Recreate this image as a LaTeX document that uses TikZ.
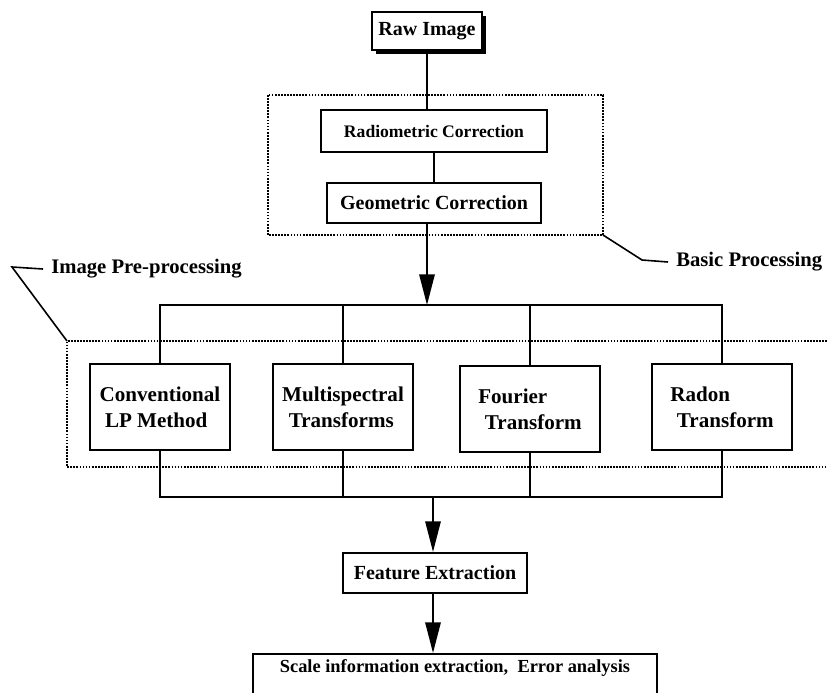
\documentclass[tikz,border=0pt]{standalone}
\usepackage{fontspec}
\setmainfont{Liberation Serif}
\usetikzlibrary{arrows.meta,shadows}
\tikzset{
  blk/.style={draw, line width=1.6pt, fill=white, align=center, inner sep=2pt,
              font=\bfseries\fontsize{15}{19}\selectfont},
  tblk/.style={blk, minimum width=105pt, minimum height=64pt, align=left,
              font=\bfseries\fontsize{15.8}{19.5}\selectfont},
  grp/.style={densely dotted, line width=1.3pt},
  wire/.style={line width=1.5pt},
  arr/.style={line width=1.5pt, -{Triangle[length=23pt,width=11.5pt]}},
  tag/.style={font=\bfseries\fontsize{15.5}{18}\selectfont, anchor=west, inner xsep=6pt, inner ysep=0pt},
}

\begin{document}
\begin{tikzpicture}[x=0.75pt,y=-0.75pt]
  \useasboundingbox (0,0) rectangle (827,692);

  % ---- basic processing ------------------------------------------
  \node[blk, minimum width=82pt, minimum height=29pt,
        drop shadow={opacity=1, fill=black, shadow xshift=3pt, shadow yshift=-3pt}]
        (raw) at (427,31) {Raw Image};
  \draw[grp] (268,95) rectangle (603,235);
  \node[blk, minimum width=169pt, minimum height=31pt, font=\bfseries\fontsize{13.2}{16}\selectfont]
        (radio) at (434,131) {Radiometric Correction};
  \node[blk, minimum width=160pt, minimum height=30pt] (geom) at (434,203) {Geometric Correction};
  \draw[wire] (raw.south) -- (raw.south |- radio.north);
  \draw[wire] (radio) -- (geom);

  \coordinate (cnr1) at (603,235);
  \node[tag] (basic) at (668,262) {Basic Processing};
  \draw[wire, line width=1.2pt] (cnr1) -- (642,260) -- (basic.west);

  % ---- image pre-processing --------------------------------------
  \coordinate (split) at (427,305);
  \coordinate (merge) at (433,497);
  \draw[arr] (raw.south |- geom.south) -- (split);
  \draw[grp] (827,341) -- (67,341) -- (67,467) -- (827,467);

  \node[tblk] (conv)  at (160,407) {Conventional\\\hspace{4pt}LP Method};
  \node[tblk] (multi) at (343,407) {Multispectral\\\hspace{5pt}Transforms};
  \node[tblk] (four)  at (530,409) {\raisebox{-4pt}{Fourier}\\\hspace{5pt}\raisebox{-4pt}{Transform}};
  \node[tblk] (radon) at (722,407) {\raisebox{-5pt}{Radon}\\\hspace{5pt}\raisebox{-5pt}{Transform}};

  \draw[wire] (conv.north) |- (split) -| (radon.north);
  \draw[wire] (multi.north) -- (multi.north |- split);
  \draw[wire] (four.north) -- (four.north |- split);
  \draw[wire] (conv.south) |- (merge) -| (radon.south);
  \draw[wire] (multi.south) -- (multi.south |- merge);
  \draw[wire] (four.south) -- (four.south |- merge);

  \node[tag] (pre) at (43,269) {Image Pre-processing};
  \draw[wire, line width=1.2pt] (67,341) -- (12,267) -- (pre.west);

  % ---- feature extraction ----------------------------------------
  \node[blk, minimum width=138pt, minimum height=30pt] (feat) at (435,573) {Feature Extraction};
  \draw[arr] (merge) -- (merge |- feat.north);
  \node[blk, anchor=north, minimum width=303pt, text depth=22pt, inner ysep=4pt,
        font=\bfseries\fontsize{13.8}{16}\selectfont]
        (scale) at (455,653) {Scale information extraction,\ \ Error analysis};
  \draw[arr] (feat.south -| merge) -- (merge |- scale.north);
\end{tikzpicture}
\end{document}
